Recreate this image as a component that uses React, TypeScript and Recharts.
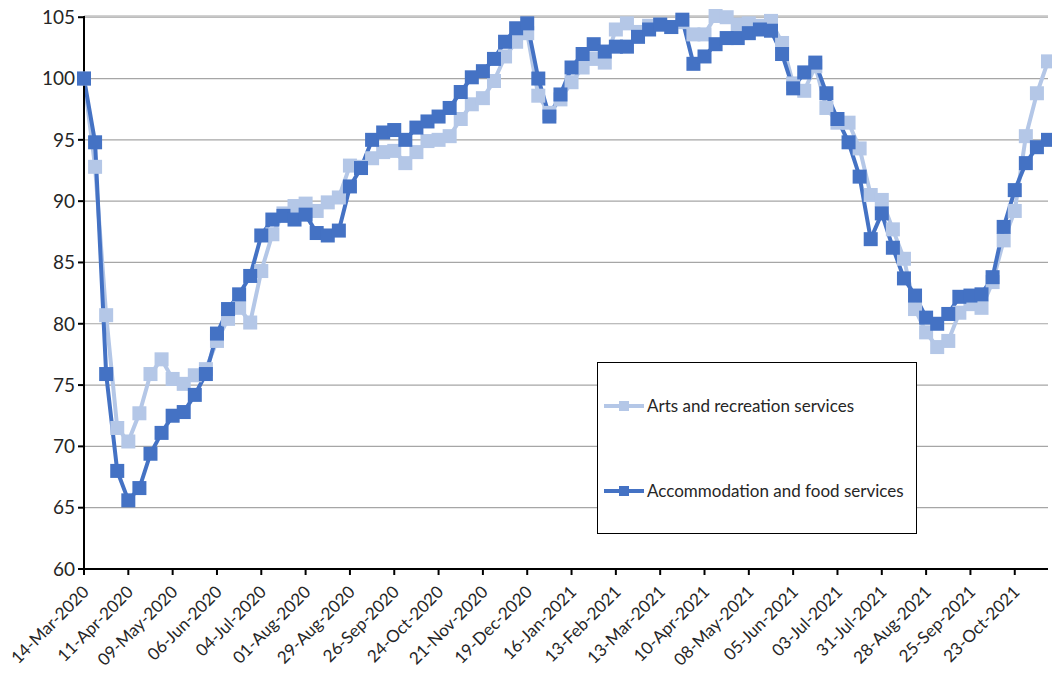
import React from 'react';
import { LineChart, Line, XAxis, YAxis, CartesianGrid, Legend } from 'recharts';

// weekly index, both series = 100 in the week of 14-Mar-2020
const weekCount = 88;
const monthNames = ['Jan', 'Feb', 'Mar', 'Apr', 'May', 'Jun', 'Jul', 'Aug', 'Sep', 'Oct', 'Nov', 'Dec'];

const tickLabels = [
  '14-Mar-2020', '11-Apr-2020', '09-May-2020', '06-Jun-2020', '04-Jul-2020', '01-Aug-2020',
  '29-Aug-2020', '26-Sep-2020', '24-Oct-2020', '21-Nov-2020', '19-Dec-2020', '16-Jan-2021',
  '13-Feb-2021', '13-Mar-2021', '10-Apr-2021', '08-May-2021', '05-Jun-2021', '03-Jul-2021',
  '31-Jul-2021', '28-Aug-2021', '25-Sep-2021', '23-Oct-2021',
];

const yTicks = [60, 65, 70, 75, 80, 85, 90, 95, 100, 105];

const artsRecreation = [
  100, 92.8, 80.7, 71.5, 70.4, 72.7, 75.9, 77.1, 75.5, 75.1,
  75.8, 76.3, 78.6, 80.4, 81.3, 80.1, 84.3, 87.3, 89.0, 89.6,
  89.8, 89.2, 89.9, 90.3, 92.9, 92.8, 93.5, 94.0, 94.1, 93.1,
  94.0, 94.9, 95.0, 95.3, 96.7, 97.9, 98.4, 99.8, 101.8, 103.0,
  103.7, 98.6, 97.2, 98.3, 99.7, 100.9, 101.6, 101.3, 104.0, 104.5,
  103.8, 104.3, 104.4, 104.2, 104.6, 103.6, 103.6, 105.1, 105.0, 104.4,
  104.5, 104.3, 104.7, 102.9, 99.6, 99.0, 101.0, 97.6, 96.4, 96.4,
  94.3, 90.5, 90.1, 87.7, 85.3, 81.2, 79.3, 78.1, 78.6, 80.9,
  81.6, 81.3, 83.4, 86.8, 89.2, 95.3, 98.8, 101.4,
];

const accommodationFood = [
  100, 94.8, 75.9, 68.0, 65.6, 66.6, 69.4, 71.1, 72.5, 72.8,
  74.2, 75.9, 79.2, 81.2, 82.4, 83.9, 87.2, 88.5, 88.8, 88.5,
  88.9, 87.4, 87.2, 87.6, 91.2, 92.7, 95.0, 95.6, 95.8, 95.0,
  96.0, 96.5, 96.9, 97.6, 98.9, 100.1, 100.6, 101.6, 103.0, 104.1,
  104.5, 100.0, 96.9, 98.7, 100.9, 102.0, 102.8, 102.2, 102.6, 102.6,
  103.4, 104.0, 104.4, 104.2, 104.8, 101.2, 101.8, 102.8, 103.3, 103.3,
  103.7, 104.0, 103.9, 102.0, 99.2, 100.5, 101.3, 98.8, 96.7, 94.8,
  92.0, 86.9, 89.0, 86.2, 83.7, 82.3, 80.5, 80.0, 80.8, 82.2,
  82.3, 82.4, 83.8, 87.9, 90.9, 93.1, 94.4, 95.0,
];

const formatWeek = (i: number) => {
  const d = new Date(Date.UTC(2020, 2, 14 + 7 * i));
  const dd = String(d.getUTCDate()).padStart(2, '0');
  return `${dd}-${monthNames[d.getUTCMonth()]}-${d.getUTCFullYear()}`;
};

const weeks = Array.from({ length: weekCount }, (_, i) => formatWeek(i));

const data = weeks.map((week, i) => ({
  week,
  arts: artsRecreation[i],
  accommodation: accommodationFood[i],
}));

const FONT = 'Lato, "Open Sans", sans-serif';
const ARTS_COLOR = '#B4C7E7';
const ACCOM_COLOR = '#4472C4';

const series = [
  { key: 'arts', name: 'Arts and recreation services', color: ARTS_COLOR },
  { key: 'accommodation', name: 'Accommodation and food services', color: ACCOM_COLOR },
];

const squareDot = (color: string) => (props: any) => {
  const { cx, cy, index } = props;
  if (cx == null || cy == null) return <g key={`d-${index}`} />;
  return <rect key={`d-${index}`} x={cx - 7} y={cy - 7} width={14} height={14} fill={color} />;
};

const XTick = (props: any) => {
  const { x, y, payload } = props;
  const tx = x + 6;
  const ty = y + 16;
  return (
    <text
      x={tx}
      y={ty}
      transform={`rotate(-45 ${tx} ${ty})`}
      textAnchor="end"
      fontFamily={FONT}
      fontSize={17}
      fill="#262626"
    >
      {payload.value}
    </text>
  );
};

const renderLegend = () => (
  <div
    style={{
      width: 320,
      height: 172,
      boxSizing: 'border-box',
      border: '1.5px solid #000',
      background: '#fff',
      position: 'relative',
      fontFamily: FONT,
      fontSize: 17,
      color: '#262626',
    }}
  >
    {series.map((s, i) => (
      <div
        key={s.key}
        style={{
          position: 'absolute',
          left: 5,
          top: i === 0 ? 32 : 117,
          display: 'flex',
          alignItems: 'center',
          whiteSpace: 'nowrap',
        }}
      >
        <svg width={42} height={16} style={{ marginRight: 2 }}>
          <line x1={1} y1={8} x2={41} y2={8} stroke={s.color} strokeWidth={4} />
          <rect x={16} y={3} width={10} height={10} fill={s.color} />
        </svg>
        <span>{s.name}</span>
      </div>
    ))}
  </div>
);

export default function App() {
  return (
    <div style={{ position: 'absolute', left: 0, top: 0, width: 1052, height: 675, background: '#fff' }}>
      <LineChart width={1052} height={675} data={data} margin={{ top: 16, right: 4, left: 0, bottom: 0 }}>
        <CartesianGrid horizontal vertical={false} stroke="#A6A6A6" strokeWidth={1.2} />
        <XAxis
          dataKey="week"
          type="category"
          ticks={tickLabels}
          interval={0}
          axisLine={{ stroke: '#000', strokeWidth: 2 }}
          tickLine={{ stroke: '#000', strokeWidth: 2 }}
          tickSize={6}
          tick={<XTick />}
          height={106}
        />
        <YAxis
          domain={[60, 105]}
          ticks={yTicks}
          interval={0}
          width={84}
          axisLine={{ stroke: '#000', strokeWidth: 2 }}
          tickLine={{ stroke: '#000', strokeWidth: 2 }}
          tickSize={6}
          tickMargin={3}
          tick={{ fontFamily: FONT, fontSize: 19, fill: '#262626' }}
        />
        <Legend
          layout="vertical"
          align="center"
          verticalAlign="middle"
          content={renderLegend}
          wrapperStyle={{ left: 597, top: 362, width: 320, height: 172 }}
        />
        {series.map((s) => (
          <Line
            key={s.key}
            type="linear"
            dataKey={s.key}
            name={s.name}
            stroke={s.color}
            strokeWidth={4}
            dot={squareDot(s.color)}
            activeDot={false}
            isAnimationActive={false}
          />
        ))}
      </LineChart>
    </div>
  );
}
